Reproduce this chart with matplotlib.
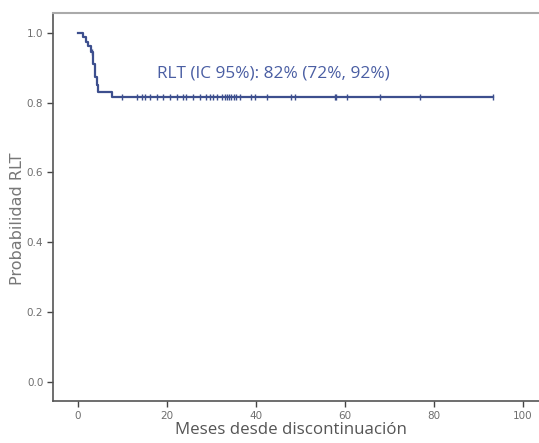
import numpy as np
import matplotlib
matplotlib.use("Agg")
import matplotlib.pyplot as plt

# Kaplan-Meier steps (months, survival probability)
step_times = [0, 1.1, 1.9, 2.3, 3.0, 3.5, 3.9, 4.3, 4.6, 7.7, 93.3]
step_surv = [1.0, 0.987, 0.975, 0.962, 0.945, 0.91, 0.875, 0.85, 0.832, 0.816, 0.816]

# censored observations (months)
censor_times = [3.2, 9.8, 13.2, 14.3, 15.1, 16.2, 17.7, 19.2, 20.7, 22.2, 23.7, 24.4,
                25.9, 27.4, 28.9, 29.7, 30.4, 31.2, 32.5, 33.0, 33.5, 34.0, 34.5,
                35.0, 35.5, 36.4, 39.0, 39.8, 42.4, 48.0, 48.8, 57.8, 58.1, 60.4,
                67.9, 76.9, 93.3]

label_text = "RLT (IC 95%): 82% (72%, 92%)"

curve_col = "#3d4f8e"
grey = "#6e6e6e"

fig = plt.figure(figsize=(5.39, 4.43), dpi=100)
ax = fig.add_axes([53 / 539, 42 / 443, 492 / 539, 388 / 443])

ax.step(step_times, step_surv, where="post", color=curve_col, lw=1.6)
# survival at censor time is the step value in effect
censor_y = [step_surv[np.searchsorted(step_times, t, side="right") - 1] for t in censor_times]
ax.plot(censor_times, censor_y, ls="none", marker="|", ms=5, mew=1.0, color=curve_col)

ax.text(17.8, 0.885, label_text, color="#4a5ea3", fontsize=12.4,
        family="Open Sans", va="center", ha="left")

ax.set_xlim(-5.6, 105)
ax.set_ylim(-0.055, 1.057)
ax.set_xticks([0, 20, 40, 60, 80, 100])
ax.set_yticks([0.0, 0.2, 0.4, 0.6, 0.8, 1.0])
ax.set_yticklabels(["0.0", "0.2", "0.4", "0.6", "0.8", "1.0"])

tick_font = ["Liberation Sans Narrow", "DejaVu Sans"]
for lab in ax.get_xticklabels() + ax.get_yticklabels():
    lab.set_family(tick_font)
    lab.set_fontsize(7.5)
    lab.set_color(grey)
ax.tick_params(axis="both", length=4, width=1.0, color="#444444", pad=3)

for s in ["left", "bottom"]:
    ax.spines[s].set_color("#555555")
    ax.spines[s].set_linewidth(1.2)
ax.spines["top"].set_color("#aaaaaa")
ax.spines["top"].set_linewidth(1.5)
ax.spines["right"].set_visible(False)

fig.text(291 / 539, 1 - 430 / 443, "Meses desde discontinuación", fontsize=12.2,
         color="#555555", family="Open Sans", ha="center", va="center")
fig.text(18 / 539, 1 - 219 / 443, "Probabilidad RLT", fontsize=11.5,
         color="#777777", family="DejaVu Sans", ha="center", va="center", rotation=90)

fig.savefig("out.png", dpi=100)
